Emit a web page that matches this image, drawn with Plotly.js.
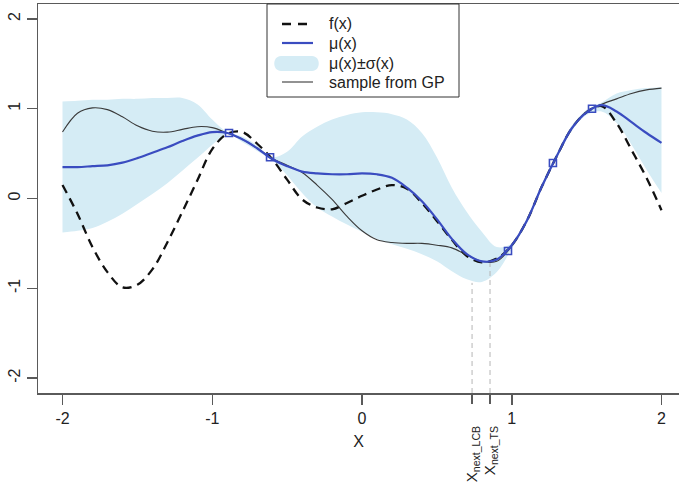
<!DOCTYPE html>
<html><head><meta charset="utf-8">
<script src="https://cdn.plot.ly/plotly-3.0.1.min.js"></script>
<style>html,body{margin:0;padding:0;background:#fff}#chart{width:679px;height:486px}</style>
</head><body><div id="chart"></div>
<script>
// x grid where curves were read
const xGrid = [-2.0,-1.9,-1.8,-1.7,-1.6,-1.5,-1.4,-1.3,-1.2,-1.1,-1.0,-0.9,-0.8,-0.7,-0.6,-0.5,-0.4,-0.3,-0.2,-0.1,0.0,0.1,0.2,0.3,0.4,0.5,0.6,0.7,0.8,0.9,1.0,1.1,1.2,1.3,1.4,1.5,1.6,1.7,1.8,1.9,2.0];
// true function f(x)
const fVals = [0.15,-0.17,-0.54,-0.82,-0.99,-0.96,-0.79,-0.49,-0.15,0.20,0.55,0.72,0.74,0.61,0.44,0.21,-0.01,-0.10,-0.12,-0.05,0.03,0.10,0.15,0.11,-0.05,-0.25,-0.46,-0.64,-0.71,-0.67,-0.52,-0.25,0.13,0.47,0.78,0.96,1.03,0.84,0.54,0.23,-0.13];
// posterior mean mu(x)
const muVals = [0.35,0.35,0.36,0.37,0.40,0.45,0.51,0.57,0.64,0.70,0.74,0.73,0.66,0.56,0.44,0.36,0.30,0.28,0.27,0.27,0.28,0.27,0.23,0.12,-0.03,-0.23,-0.45,-0.62,-0.70,-0.68,-0.52,-0.25,0.13,0.47,0.78,0.96,1.04,0.97,0.85,0.73,0.62];
// mu + sigma and mu - sigma
const bandUpper = [1.08,1.09,1.10,1.10,1.11,1.11,1.12,1.12,1.12,1.05,0.88,0.74,0.69,0.59,0.46,0.52,0.69,0.80,0.88,0.93,0.96,0.96,0.94,0.88,0.73,0.46,0.12,-0.15,-0.37,-0.54,-0.50,-0.22,0.16,0.50,0.81,0.99,1.07,1.17,1.21,1.23,1.24];
const bandLower = [-0.38,-0.36,-0.33,-0.26,-0.17,-0.06,0.05,0.17,0.31,0.45,0.60,0.72,0.63,0.53,0.43,0.26,0.06,-0.10,-0.20,-0.29,-0.37,-0.45,-0.51,-0.56,-0.62,-0.70,-0.81,-0.90,-0.93,-0.82,-0.56,-0.28,0.10,0.44,0.75,0.93,0.97,0.84,0.60,0.32,0.06];
// sample path from GP
const sampleVals = [0.74,0.95,1.01,0.99,0.91,0.81,0.75,0.74,0.77,0.80,0.79,0.73,0.66,0.56,0.45,0.37,0.29,0.15,-0.01,-0.20,-0.36,-0.46,-0.49,-0.50,-0.50,-0.52,-0.55,-0.63,-0.70,-0.70,-0.53,-0.25,0.13,0.47,0.78,0.97,1.05,1.11,1.17,1.21,1.23];
// observations
const obsX = [-0.888,-0.614,0.975,1.275,1.536];
const obsY = [0.73,0.46,-0.585,0.395,1.0];
// next query points
const xNext = [0.735,0.855];
const yNextTop = [-0.94,-0.72];
const nextLabels = ['X<sub>next_LCB</sub>','X<sub>next_TS</sub>'];
// axis ticks
const xTicks = [-2,-1,0,1,2];
const yTicks = [-2,-1,0,1,2];
// legend labels
const legendLabels = ['f(x)','μ(x)','μ(x)±σ(x)','sample from GP'];

const yRange = [-2.167, 2.167];
const xRange = [-2.1636, 2.1169];
const blue = '#3a4cc0';
const bandCol = '#d5ecf5';

const traces = [];
traces.push({x:xGrid, y:bandLower, mode:'lines', line:{width:0, shape:'spline', color:'rgba(0,0,0,0)'}, showlegend:false, hoverinfo:'skip'});
traces.push({x:xGrid, y:bandUpper, mode:'lines', fill:'tonexty', fillcolor:bandCol, line:{width:0, shape:'spline', color:'rgba(0,0,0,0)'}, name:legendLabels[2], showlegend:false});
xNext.forEach((xv,i)=>{
  traces.push({x:[xv,xv], y:[yRange[0], yNextTop[i]], xaxis:'x2', mode:'lines', line:{color:'#b5b5b5', width:1, dash:'5px,4px'}, showlegend:false, hoverinfo:'skip'});
});
traces.push({x:xGrid, y:fVals, mode:'lines', line:{color:'#111', width:2.3, dash:'9px,6px', shape:'spline'}, name:legendLabels[0], showlegend:false});
traces.push({x:xGrid, y:sampleVals, mode:'lines', line:{color:'#3a3a3a', width:1.1, shape:'spline'}, name:legendLabels[3], showlegend:false});
traces.push({x:xGrid, y:muVals, mode:'lines', line:{color:blue, width:2.2, shape:'spline'}, name:legendLabels[1], showlegend:false});
traces.push({x:obsX, y:obsY, mode:'markers', marker:{symbol:'square-open', size:7, color:blue, line:{width:1.6, color:blue}}, showlegend:false});

// legend drawn as a boxed key (pixel helpers -> paper coords)
const L = 38, W = 641, B = 393, H = 389;
const px = v => (v - L) / W;
const py = v => (B - v) / H;
const keyRows = [24, 43, 63, 82];
const symX0 = 282, symX1 = 313, txtX = 327;
const shapes = [
  {type:'rect', xref:'paper', yref:'paper', x0:px(267), x1:px(459), y0:py(97), y1:py(4), fillcolor:'#fff', line:{color:'#333', width:1}, layer:'above'},
  {type:'line', xref:'paper', yref:'paper', x0:px(symX0), x1:px(symX1), y0:py(keyRows[0]), y1:py(keyRows[0]), line:{color:'#111', width:2.3, dash:'9px,7px'}, layer:'above'},
  {type:'line', xref:'paper', yref:'paper', x0:px(symX0), x1:px(symX1), y0:py(keyRows[1]), y1:py(keyRows[1]), line:{color:blue, width:2.2}, layer:'above'},
  {type:'path', xref:'paper', yref:'paper', layer:'above', fillcolor:bandCol, line:{width:0},
    path:`M ${px(281)},${py(56)} L ${px(312)},${py(56)} C ${px(321)},${py(56)} ${px(321)},${py(71)} ${px(312)},${py(71)} L ${px(281)},${py(71)} C ${px(272)},${py(71)} ${px(272)},${py(56)} ${px(281)},${py(56)} Z`},
  {type:'line', xref:'paper', yref:'paper', x0:px(symX0), x1:px(symX1), y0:py(keyRows[3]), y1:py(keyRows[3]), line:{color:'#3a3a3a', width:1.1}, layer:'above'}
];
const annotations = legendLabels.map((t,i)=>({text:t, xref:'paper', yref:'paper', x:px(txtX), y:py(keyRows[i]), xanchor:'left', yanchor:'middle', showarrow:false, font:{size:16, color:'#222'}}));

const axCol = '#5a5a5a';
const layout = {
  width:679, height:486,
  margin:{l:38, r:0, t:4, b:93},
  paper_bgcolor:'#fff', plot_bgcolor:'#fff',
  font:{family:'"Liberation Sans", Arial, sans-serif', size:16, color:'#222'},
  xaxis:{range:xRange, tickvals:xTicks, ticktext:xTicks.map(String), ticks:'outside', ticklen:10, tickwidth:1.5, tickcolor:axCol,
    showline:true, linecolor:axCol, linewidth:1.5, mirror:true, showgrid:false, zeroline:false,
    title:{text:'X', standoff:10, font:{size:16}}},
  xaxis2:{overlaying:'x', matches:'x', side:'bottom', tickvals:xNext, ticktext:nextLabels, tickangle:-90, ticks:'outside', ticklen:10, tickwidth:1.5, tickcolor:axCol,
    ticklabelstandoff:16, showline:false, showgrid:false, zeroline:false, tickfont:{size:15}},
  yaxis:{range:yRange, tickvals:yTicks, ticktext:yTicks.map(String), tickangle:-90, ticks:'outside', ticklen:10, tickwidth:1.5, tickcolor:axCol,
    showline:true, linecolor:axCol, linewidth:1.5, mirror:false, showgrid:false, zeroline:false},
  showlegend:false,
  shapes:shapes,
  annotations:annotations
};
Plotly.newPlot('chart', traces, layout, {staticPlot:true, displayModeBar:false});
</script></body></html>
